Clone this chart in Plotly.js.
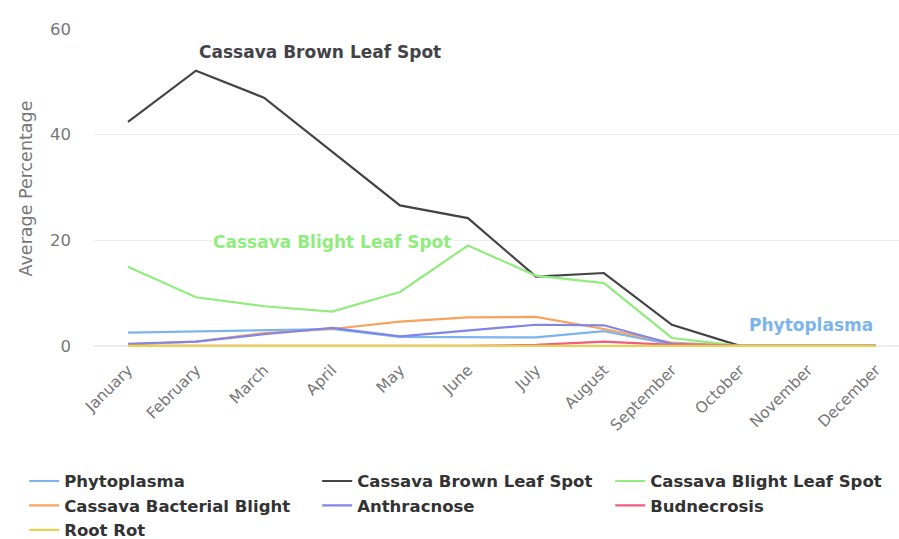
<!DOCTYPE html>
<html>
<head>
<meta charset="utf-8">
<script src="https://cdn.plot.ly/plotly-3.0.1.min.js"></script>
<style>html,body{margin:0;padding:0;background:#fff;}#chart{width:899px;height:539px;}</style>
</head>
<body>
<div id="chart"></div>
<script>
const months = ['January','February','March','April','May','June','July','August','September','October','November','December'];
const phytoplasma = [2.5, 2.7, 2.9, 3.2, 1.7, 1.6, 1.6, 2.8, 0.3, 0, 0, 0];
const brownLeafSpot = [42.4, 52.1, 47.0, 36.8, 26.6, 24.2, 13.1, 13.8, 4.0, 0, 0, 0];
const blightLeafSpot = [15.0, 9.2, 7.5, 6.5, 10.2, 19.0, 13.3, 11.9, 1.5, 0, 0, 0];
const bacterialBlight = [0.3, 0.8, 2.4, 3.2, 4.6, 5.4, 5.5, 3.2, 0.6, 0, 0, 0];
const anthracnose = [0.4, 0.8, 2.2, 3.4, 1.8, 2.9, 4.0, 3.9, 0.4, 0, 0, 0];
const budnecrosis = [0, 0, 0, 0, 0, 0, 0.2, 0.8, 0.2, 0, 0, 0];
const rootRot = [0, 0, 0, 0, 0, 0, 0, 0, 0, 0, 0, 0];

const seriesNames = ['Phytoplasma','Cassava Brown Leaf Spot','Cassava Blight Leaf Spot','Cassava Bacterial Blight','Anthracnose','Budnecrosis','Root Rot'];
const seriesValues = [phytoplasma, brownLeafSpot, blightLeafSpot, bacterialBlight, anthracnose, budnecrosis, rootRot];
const seriesColors = ['#7cb5ec','#434348','#90ed7d','#f7a35c','#8085e9','#f15c80','#e4d354'];

const traces = seriesNames.map((name, i) => ({
  type: 'scatter', mode: 'lines', name: name,
  x: months, y: seriesValues[i],
  line: {color: seriesColors[i], width: 2.2},
  hoverinfo: 'x+y+name'
}));

const layout = {
  width: 899, height: 539,
  paper_bgcolor: '#fff', plot_bgcolor: '#fff',
  font: {family: 'DejaVu Sans, sans-serif', color: '#666', size: 15},
  margin: {l: 94, r: 0, t: 29, b: 191, autoexpand: false},
  showlegend: true,
  xaxis: {
    type: 'category', range: [-0.5, 11.34],
    tickangle: -45, showgrid: false, zeroline: false, showline: false,
    ticks: '', ticklabelstandoff: 9,
    tickfont: {size: 15.5, color: '#777'}
  },
  yaxis: {
    range: [-0.4, 60], tickvals: [0, 20, 40, 60],
    showgrid: true, gridcolor: '#ececec', gridwidth: 1.5, zeroline: false,
    ticklabelstandoff: 22,
    tickfont: {size: 16.5, color: '#777'},
    title: {text: 'Average Percentage', font: {size: 17.5, color: '#777'}, standoff: 12}
  },
  legend: {
    orientation: 'h', x: -0.0867, xanchor: 'left',
    y: -0.363, yanchor: 'top',
    entrywidth: 248, entrywidthmode: 'pixels',
    font: {size: 16.5, color: '#333', family: 'DejaVu Sans, sans-serif', weight: 'bold'},
    itemwidth: 30, tracegroupgap: 0, bgcolor: 'rgba(0,0,0,0)'
  },
  annotations: [
    {x: 2.82, y: 55.7, xref: 'x', yref: 'y', text: '<b>Cassava Brown Leaf Spot</b>', showarrow: false,
     font: {size: 17, color: '#434348'}},
    {x: 3.0, y: 19.7, xref: 'x', yref: 'y', text: '<b>Cassava Blight Leaf Spot</b>', showarrow: false,
     bgcolor: '#fff', font: {size: 17, color: '#90ed7d'}},
    {x: 10.04, y: 4.0, xref: 'x', yref: 'y', text: '<b>Phytoplasma</b>', showarrow: false,
     font: {size: 17, color: '#7cb5ec'}}
  ]
};

Plotly.newPlot('chart', traces, layout, {displayModeBar: false, staticPlot: true});
</script>
</body>
</html>
